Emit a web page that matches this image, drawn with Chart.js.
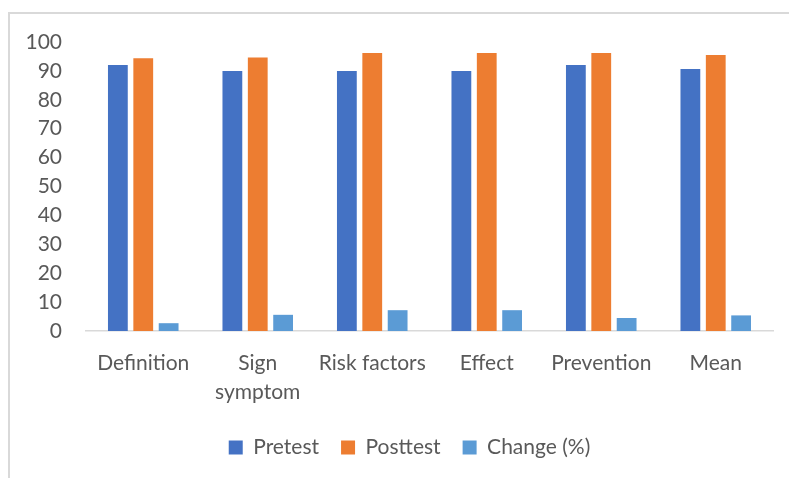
<!DOCTYPE html>
<html>
<head>
<meta charset="utf-8">
<script src="https://cdn.jsdelivr.net/npm/chart.js@4"></script>
<style>
  html, body { margin: 0; padding: 0; background: #ffffff; }
  #wrap { position: relative; width: 789px; height: 478px; overflow: hidden; }
  #frame { position: absolute; left: 8px; top: 12px; width: 800px; height: 480px;
           border-left: 2px solid #d9d9d9; border-top: 2px solid #d9d9d9; box-sizing: border-box; }
  canvas { position: absolute; left: 0; top: 0; }
</style>
</head>
<body>
<div id="wrap">
  <div id="frame"></div>
  <canvas id="chart" width="789" height="478"></canvas>
</div>
<script>
// Knowledge scores by topic
const categories = ['Definition', ['Sign', 'symptom'], 'Risk factors', 'Effect', 'Prevention', 'Mean'];
const pretest  = [92.0, 90.0, 90.0, 90.0, 92.0, 90.7];
const posttest = [94.4, 94.6, 96.2, 96.2, 96.2, 95.5];
const change   = [2.7, 5.6, 7.2, 7.2, 4.5, 5.4];
const yTicks   = [0, 10, 20, 30, 40, 50, 60, 70, 80, 90, 100];

const textColor = '#595959';
Chart.defaults.font.family = 'Lato';
Chart.defaults.color = textColor;

// Centre the legend under the whole chart frame rather than the plot width
const legendShift = {
  id: 'legendShift',
  afterLayout(chart) {
    const lg = chart.legend;
    if (lg) { lg.left += 23; lg.right += 23; }
  }
};

new Chart(document.getElementById('chart'), {
  type: 'bar',
  data: {
    labels: categories,
    datasets: [
      { label: 'Pretest',    data: pretest,  backgroundColor: '#4472C4' },
      { label: 'Posttest',   data: posttest, backgroundColor: '#ED7D31' },
      { label: 'Change (%)', data: change,   backgroundColor: '#5B9BD5' }
    ]
  },
  plugins: [legendShift],
  options: {
    responsive: false,
    animation: false,
    layout: { padding: { left: 0, right: 16, top: 42, bottom: 10 } },
    datasets: { bar: { categoryPercentage: 0.665, barPercentage: 0.78 } },
    scales: {
      x: {
        grid: { display: false, drawTicks: false },
        border: { display: true, color: '#d9d9d9', width: 1.5 },
        ticks: { font: { size: 21, lineHeight: '29px' }, padding: 18, maxRotation: 0, autoSkip: false },
        afterFit: s => { s.height = 84; }
      },
      y: {
        min: 0, max: 100,
        grid: { display: false, drawTicks: false },
        border: { display: false },
        afterBuildTicks: s => { s.ticks = yTicks.map(v => ({ value: v })); },
        ticks: { font: { size: 21 }, padding: 24 },
        afterFit: s => { s.width = 86; }
      }
    },
    plugins: {
      legend: {
        position: 'bottom',
        labels: { boxWidth: 14, boxHeight: 14, padding: 22, font: { size: 21 }, color: textColor }
      },
      tooltip: { enabled: false }
    }
  }
});
</script>
</body>
</html>
